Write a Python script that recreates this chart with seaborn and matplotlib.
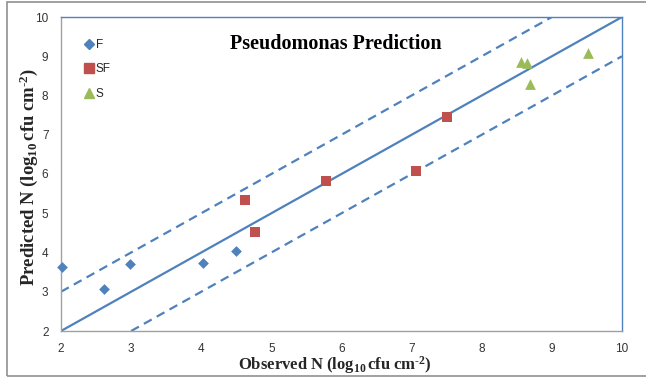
import matplotlib
matplotlib.use("Agg")
import matplotlib.pyplot as plt
import seaborn as sns
import pandas as pd
from matplotlib.patches import Rectangle
from matplotlib.lines import Line2D

# ---- data ----
f_obs = [2.01, 2.61, 2.99, 4.02, 4.50]
f_pred = [3.64, 3.08, 3.71, 3.74, 4.03]
sf_obs = [4.62, 4.76, 5.78, 7.06, 7.50]
sf_pred = [5.35, 4.52, 5.83, 6.07, 7.44]
s_obs = [8.56, 8.65, 8.69, 9.51]
s_pred = [8.85, 8.84, 8.30, 9.08]
groups = ["F", "SF", "S"]

line_x = [2, 10]
line_y = [2, 10]
upper_x = [2, 9]
upper_y = [3, 10]
lower_x = [3, 10]
lower_y = [2, 9]

x_ticks = [2, 3, 4, 5, 6, 7, 8, 9, 10]
y_ticks = [2, 3, 4, 5, 6, 7, 8, 9, 10]

title = "Pseudomonas Prediction"
xlabel = "$\\mathbf{Observed\\ N\\ (log_{10}\\,cfu\\ cm^{\u20102})}$"
ylabel = "$\\mathbf{Predicted\\ N\\ (log_{10}\\,cfu\\ cm^{\u20102})}$"

# ---- build frame ----
df = pd.DataFrame({
    "obs": f_obs + sf_obs + s_obs,
    "pred": f_pred + sf_pred + s_pred,
    "group": ["F"] * len(f_obs) + ["SF"] * len(sf_obs) + ["S"] * len(s_obs),
})

sns.set_style("white")
plt.rcParams["font.family"] = ["Liberation Sans", "DejaVu Sans"]
plt.rcParams["mathtext.fontset"] = "custom"
plt.rcParams["mathtext.rm"] = "Liberation Serif"
plt.rcParams["mathtext.bf"] = "Liberation Serif:bold"
plt.rcParams["mathtext.it"] = "Liberation Serif:italic"

blue = "#4F81BD"
red = "#C0504D"
green = "#9BBB59"
palette = {"F": blue, "SF": red, "S": green}
markers = {"F": "D", "SF": "s", "S": "^"}
sizes = {"F": 30, "SF": 45, "S": 60}

fig = plt.figure(figsize=(6.46, 3.78), dpi=100)
ax = fig.add_axes([61 / 646, 1 - 331 / 378, (622 - 61) / 646, (331 - 17) / 378])

sns.lineplot(x=line_x, y=line_y, ax=ax, color=blue, lw=1.6)
sns.lineplot(x=upper_x, y=upper_y, ax=ax, color=blue, lw=1.6)
sns.lineplot(x=lower_x, y=lower_y, ax=ax, color=blue, lw=1.6)
for ln in ax.lines[1:3]:
    ln.set_dashes((4, 2.6))

for g in groups:
    sub = df[df["group"] == g]
    sns.scatterplot(data=sub, x="obs", y="pred", ax=ax, color=palette[g],
                    marker=markers[g], s=sizes[g], linewidth=0, zorder=5)
for coll in ax.collections:
    coll.set_clip_on(False)

ax.set_xlim(2, 10)
ax.set_ylim(2, 10)
ax.set_xticks(x_ticks)
ax.set_yticks(y_ticks)
ax.tick_params(axis="both", direction="out", length=4, width=0.8, color="#A0A0A0",
               labelsize=8.5, labelcolor="#333333", pad=5)
for side in ["left", "bottom"]:
    ax.spines[side].set_color("#A0A0A0")
    ax.spines[side].set_linewidth(1.0)
for side in ["top", "right"]:
    ax.spines[side].set_color(blue)
    ax.spines[side].set_linewidth(1.0)

ax.set_xlabel(xlabel, fontsize=12)
ax.xaxis.set_label_coords(0.488, -0.074)
ax.set_ylabel(ylabel, fontsize=13.5)
ax.yaxis.set_label_coords(-0.037, 0.49)

ax.text(0.49, 0.915, title, transform=ax.transAxes, ha="center", va="center",
        fontsize=14.5, fontweight="bold", family="Liberation Serif", color="black")

handles = [Line2D([], [], linestyle="none", marker=markers[g], color=palette[g],
                  markersize={"F": 5, "SF": 7, "S": 7}[g]) for g in groups]
leg = ax.legend(handles, groups, loc="upper left", bbox_to_anchor=(0.035, 0.945),
                frameon=False, fontsize=8.5, handlelength=0.6, handletextpad=0.3,
                labelspacing=1.05, borderaxespad=0)

fig.patches.append(Rectangle((7 / 646, 2 / 378), 1.0, 374 / 378, transform=fig.transFigure,
                             fill=False, edgecolor="#909090", linewidth=1.2, zorder=-1))

fig.savefig("out.png", dpi=100)
